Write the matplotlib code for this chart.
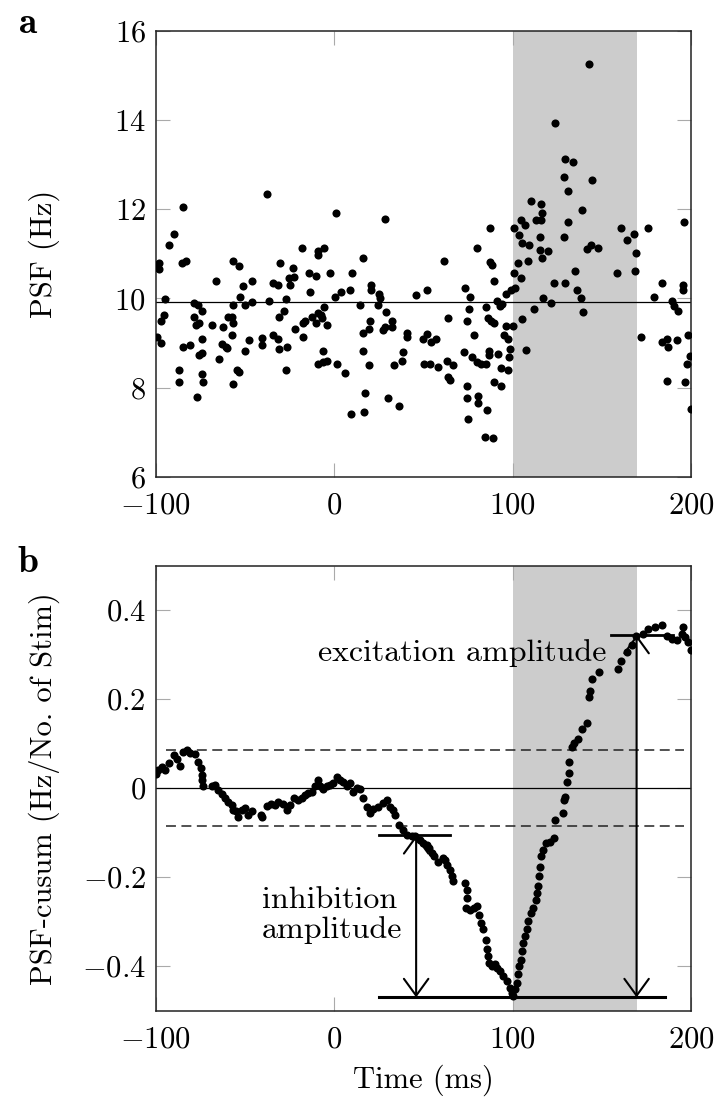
import matplotlib
matplotlib.use("Agg")
import matplotlib.pyplot as plt
import numpy as np

plt.rcParams['font.family'] = ['cmr10', 'DejaVu Serif']
plt.rcParams['mathtext.fontset'] = 'cm'
plt.rcParams['axes.unicode_minus'] = False

## panel a: peri-stimulus frequency, (time ms, Hz)
psf_a = [
    (-99.4, 10.7), (-97.9, 10.79), (-97.9, 10.66), (-99.4, 9.14), (-97.1, 8.99), (-94.7, 9.99),
    (-95.3, 9.63), (-96.9, 9.49), (-92.3, 11.2), (-89.5, 11.45), (-84.4, 12.06), (-85.4, 10.79),
    (-82.9, 10.84), (-87.0, 8.39), (-87.0, 8.13), (-84.4, 8.92), (-80.7, 8.96), (-76.8, 7.79),
    (-78.3, 9.90), (-76.4, 9.85), (-74.1, 9.72), (-78.6, 9.58), (-77.3, 9.40), (-75.5, 9.44),
    (-74.1, 9.10), (-75.5, 8.73), (-74.1, 8.78), (-74.1, 8.30), (-73.2, 8.13), (-66.3, 10.4),
    (-68.4, 9.41), (-64.3, 8.64), (-62.0, 9.35), (-63.0, 8.97), (-60.5, 8.92), (-59.8, 8.89),
    (-59.2, 9.58), (-57.3, 9.58), (-56.4, 9.44), (-57.3, 9.19), (-56.4, 10.85), (-53.4, 10.73),
    (-56.8, 9.85), (-56.4, 8.09), (-54.2, 8.39), (-53.4, 8.36), (-52.7, 10.04), (-50.8, 10.29),
    (-46.1, 10.4), (-49.9, 9.85), (-46.1, 9.91), (-47.5, 9.07), (-49.9, 8.83), (-40.5, 9.12),
    (-40.5, 8.95), (-37.4, 12.34), (-36.2, 9.95), (-34.0, 10.35), (-31.4, 10.3), (-34.4, 9.19),
    (-31.2, 9.10), (-30.6, 8.87), (-30.3, 10.79), (-30.8, 9.58), (-27.8, 9.71), (-26.9, 9.99),
    (-26.5, 8.92), (-26.9, 8.39), (-24.7, 10.3), (-25.1, 10.45), (-22.4, 10.47), (-23.2, 10.68),
    (-21.9, 9.32), (-18.1, 11.14), (-17.6, 9.13), (-17.2, 9.46), (-16.1, 9.49), (-14.2, 10.56),
    (-13.5, 10.14), (-12.3, 9.59), (-10.1, 9.46), (-10.1, 10.5), (-9.2, 10.97), (-9.2, 11.07),
    (-5.4, 11.13), (-8.8, 9.67), (-7.3, 9.63), (-5.6, 9.8), (-6.5, 9.57), (-4.1, 9.4),
    (-6.0, 8.83), (-8.8, 8.54), (-6.4, 8.57), (-4.1, 8.6), (-2.3, 10.56), (0.5, 10.04),
    (3.9, 10.15), (1.1, 11.91), (1.5, 8.54), (6.3, 8.33), (9.0, 10.19), (9.3, 7.4),
    (16.6, 7.46), (10.1, 10.56), (14.5, 9.85), (16.4, 10.9), (16.0, 9.23), (19.8, 9.31),
    (20.1, 9.5), (16.0, 8.83), (17.4, 7.88), (19.8, 8.51), (20.5, 10.3), (20.5, 10.2),
    (25.0, 10.11), (25.8, 10.0), (24.8, 9.85), (28.7, 11.78), (29.1, 9.70), (27.6, 9.29),
    (28.5, 9.37), (32.5, 9.5), (32.5, 9.37), (30.4, 7.76), (33.6, 8.51), (36.4, 7.59),
    (38.3, 8.6), (38.5, 8.79), (40.7, 9.22), (40.7, 9.14), (45.9, 10.08),
    (52.3, 10.19), (61.6, 10.84), (63.7, 9.57), (50.1, 9.1), (51.9, 9.2), (54.4, 9.03),
    (57.0, 9.1), (50.6, 8.54), (53.8, 8.53), (58.1, 8.47), (63.1, 8.6), (66.9, 8.51),
    (63.7, 8.24), (65.2, 8.17), (73.4, 10.24), (76.2, 10.04), (75.7, 9.76), (74.3, 9.49),
    (78.6, 9.19), (73.0, 8.79), (77.5, 8.69), (79.9, 8.58), (82.4, 8.54), (85.0, 8.54),
    (86.9, 8.83), (86.9, 8.73), (91.7, 8.75), (74.3, 8.03), (74.7, 7.76), (80.9, 7.82),
    (80.9, 7.65), (74.9, 7.29), (85.7, 7.5), (84.6, 6.9), (88.9, 6.88), (89.5, 8.13),
    (93.4, 8.03), (93.6, 8.43), (97.3, 8.39), (98.8, 8.87), (98.1, 8.69), (87.6, 11.57),
    (79.9, 11.14), (87.4, 10.82), (88.7, 10.75), (89.7, 10.4), (85.2, 9.80), (86.1, 9.57),
    (88.0, 9.5), (89.8, 9.44), (91.2, 9.95), (93.0, 9.83), (94.3, 9.87), (96.2, 10.09),
    (99.2, 10.19), (101.4, 10.23), (95.4, 9.18), (97.3, 9.1), (96.2, 9.38), (100.5, 9.38),
    (101.0, 10.56), (103.1, 10.79), (104.6, 10.45), (105.5, 9.53), (107.6, 8.84), (101.0, 11.57),
    (103.7, 11.42), (105.2, 11.25), (104.8, 11.76), (107.0, 11.65), (108.5, 10.85), (109.3, 11.2),
    (110.6, 12.19), (111.9, 9.76), (113.2, 11.77), (116.0, 11.77), (115.4, 11.38), (116.0, 12.12),
    (116.4, 11.91), (115.4, 11.09), (119.7, 11.07), (116.7, 10.9), (117.3, 10.0), (121.4, 9.89),
    (123.1, 10.35), (129.4, 10.35), (123.8, 13.94), (128.7, 12.73), (129.4, 13.13), (133.9, 13.05),
    (131.3, 12.41), (128.7, 11.38), (131.3, 11.71), (135.0, 10.62), (136.0, 10.19), (138.4, 10.0),
    (139.3, 9.70), (138.8, 11.98), (144.4, 12.66), (143.1, 15.27), (141.6, 11.12), (144.0, 11.2),
    (148.1, 11.14), (158.7, 10.56), (160.6, 11.57), (164.0, 11.31), (167.9, 11.44), (169.0, 11.01),
    (168.6, 10.61), (172.2, 9.14), (176.1, 11.57), (179.3, 10.04), (183.6, 10.35), (189.6, 9.95),
    (190.7, 9.83), (192.6, 9.72), (184.0, 9.03), (186.4, 9.1), (186.9, 8.92), (186.4, 8.15),
    (192.4, 9.07), (195.4, 10.3), (195.4, 10.19), (196.3, 11.71), (198.5, 9.18), (199.6, 8.71),
    (197.6, 8.53), (196.7, 8.13), (199.8, 7.53),
]
psf_t = [p[0] for p in psf_a]
psf_hz = [p[1] for p in psf_a]
psf_mean = 9.93

## panel b: cusum
cusum_t = [
    -99.7, -98.4, -96.6, -94.7, -92.3, -89.7, -87.8, -86.3, -84.4, -82.6, -80.7, -77.9,
    -76.0, -74.7, -74.2, -73.8, -73.2, -68.6, -66.7, -64.9, -63.0, -61.1, -59.2, -57.4,
    -56.4, -54.9, -53.6, -51.8, -49.9, -48.0, -46.1, -41.1, -40.5, -37.7, -35.5, -33.1,
    -31.2, -28.8, -26.5, -24.7, -22.4, -20.0, -18.1, -16.3, -14.4, -12.5, -10.7, -9.2,
    -7.9, -6.0, -4.1, -2.3, -0.4, 1.5, 3.3, 5.2, 7.1, 8.9, 10.8, 12.7,
    14.5, 16.4, 18.3, 20.1, 22.0, 24.8, 27.6, 29.5, 31.4, 33.2, 34.2, 36.6,
    38.4, 40.7, 43.5, 45.4, 48.2, 50.1, 51.9, 53.4, 54.7, 56.2, 58.5, 60.9,
    62.2, 63.5, 65.0, 65.9, 66.9, 73.4, 74.3, 74.7, 74.0, 76.2, 78.5, 80.3,
    81.4, 82.2, 83.3, 85.2, 85.9, 86.5, 87.0, 88.4, 90.2, 91.5, 93.0, 94.9,
    96.8, 98.3, 99.6, 100.1, 101.4, 102.4, 103.3, 103.9, 104.6, 105.2, 106.1, 107.0,
    108.0, 108.9, 110.2, 111.7, 113.2, 113.9, 114.5, 115.1, 115.4, 115.8, 116.9, 118.8,
    121.0, 123.3, 123.8, 128.5, 128.9, 129.4, 130.4, 131.7, 131.9, 133.2, 134.5, 136.9,
    138.8, 141.6, 143.1, 143.4, 144.4, 148.5, 159.3, 160.6, 164.0, 166.8, 169.2, 173.3,
    176.1, 179.9, 183.6, 186.4, 189.2, 192.0, 194.8, 195.7, 196.7, 198.5, 199.8,
]
cusum_v = [
    0.033, 0.042, 0.047, 0.042, 0.057, 0.075, 0.065, 0.050, 0.082, 0.086, 0.080, 0.077,
    0.060, 0.045, 0.030, 0.019, 0.005, 0.004, 0.007, -0.004, -0.013, -0.022, -0.030, -0.037,
    -0.049, -0.052, -0.065, -0.048, -0.045, -0.060, -0.052, -0.060, -0.065, -0.040, -0.035, -0.037,
    -0.032, -0.035, -0.048, -0.037, -0.022, -0.026, -0.022, -0.015, -0.010, -0.008, 0.004, 0.019,
    0.005, -0.002, 0.004, 0.007, 0.011, 0.026, 0.019, 0.013, 0.005, 0.011, -0.008, 0.000,
    -0.002, -0.022, -0.041, -0.056, -0.047, -0.043, -0.034, -0.026, -0.041, -0.048, -0.060, -0.082,
    -0.093, -0.105, -0.108, -0.108, -0.116, -0.122, -0.127, -0.134, -0.146, -0.153, -0.166, -0.157,
    -0.162, -0.172, -0.183, -0.198, -0.209, -0.214, -0.228, -0.246, -0.269, -0.273, -0.269, -0.264,
    -0.284, -0.302, -0.317, -0.341, -0.362, -0.377, -0.392, -0.399, -0.396, -0.403, -0.411, -0.422,
    -0.433, -0.448, -0.459, -0.467, -0.452, -0.437, -0.418, -0.400, -0.385, -0.366, -0.347, -0.332,
    -0.317, -0.299, -0.280, -0.269, -0.250, -0.235, -0.220, -0.198, -0.176, -0.153, -0.138, -0.123,
    -0.120, -0.112, -0.072, -0.056, -0.026, -0.019, 0.013, 0.034, 0.060, 0.093, 0.102, 0.110,
    0.134, 0.147, 0.205, 0.219, 0.246, 0.261, 0.269, 0.287, 0.306, 0.321, 0.343, 0.347,
    0.358, 0.362, 0.366, 0.343, 0.336, 0.334, 0.347, 0.362, 0.340, 0.328, 0.310,
]
threshold = 0.085
inhib_top, floor_v, excit_top = -0.105, -0.470, 0.345
inhib_t, excit_t = 46, 169.5
stim_window = (100, 170)

xticks = [-100, 0, 100, 200]
yticks_a = [6, 8, 10, 12, 14, 16]
yticks_b = [-0.4, -0.2, 0, 0.2, 0.4]
yticklabels_b = ['$-0.4$', '$-0.2$', '$0$', '$0.2$', '$0.4$']

fig = plt.figure(figsize=(7.15, 10.99), dpi=100)
ax_a = fig.add_axes([0.2175, 0.5662, 0.749, 0.4056])
ax_b = fig.add_axes([0.2175, 0.0803, 0.749, 0.4049])

FS = 22
for ax in (ax_a, ax_b):
    ax.set_xlim(-100, 200)
    ax.axvspan(*stim_window, color='#cccccc', lw=0, zorder=0)
    ax.set_xticks(xticks)
    ax.set_xticklabels(['$%d$' % t if t >= 0 else '$-%d$' % -t for t in xticks])
    ax.tick_params(direction='in', length=10, width=0.8, color='#aaaaaa',
                   top=True, right=True, labelsize=FS, pad=7)
    ax.tick_params(axis='x', pad=11)
    for s in ax.spines.values():
        s.set_linewidth(1.1)
        s.set_color('#222222')

## a
ax_a.scatter(psf_t, psf_hz, s=34, color='black', lw=0, zorder=3)
ax_a.axhline(psf_mean, color='black', lw=0.9, zorder=2)
ax_a.set_ylim(6, 16)
ax_a.set_yticks(yticks_a)
ax_a.set_yticklabels(['$%d$' % v for v in yticks_a])
ax_a.set_ylabel('PSF (Hz)', fontsize=FS)
ax_a.yaxis.set_label_coords(-0.178, 0.5)

## b
ax_b.set_ylim(-0.5, 0.5)
ax_b.set_yticks(yticks_b)
ax_b.set_yticklabels(yticklabels_b)
ax_b.axhline(0, color='black', lw=0.9, zorder=2)
for th in (threshold, -threshold):
    ax_b.plot([-94, 196], [th, th], color='#222222', lw=1.1, dashes=(6.5, 3.6), zorder=2)
ax_b.scatter(cusum_t, cusum_v, s=34, color='black', lw=0, zorder=3)

# amplitude bars and arrows
ax_b.plot([25.4, 65], [inhib_top, inhib_top], color='black', lw=2, zorder=4)
ax_b.plot([25.4, 185.5], [floor_v, floor_v], color='black', lw=2.2, zorder=4)
ax_b.plot([155, 190], [excit_top, excit_top], color='black', lw=2, zorder=4)
arrow = dict(arrowstyle='<->,head_length=0.55,head_width=0.4', lw=1.5,
             mutation_scale=22, shrinkA=0, shrinkB=0, color='black')
ax_b.annotate('', xy=(inhib_t, inhib_top), xytext=(inhib_t, floor_v), arrowprops=arrow, zorder=4)
ax_b.annotate('', xy=(excit_t, excit_top), xytext=(excit_t, floor_v), arrowprops=arrow, zorder=4)
ax_b.text(72, 0.303, 'excitation amplitude', fontsize=FS + 1, ha='center', va='center', zorder=5)
ax_b.text(-40.5, -0.286, 'inhibition\namplitude', fontsize=FS + 1, ha='left', va='center',
          linespacing=1.1, zorder=5)

ax_b.set_ylabel('PSF-cusum (Hz/No. of Stim)', fontsize=FS)
ax_b.yaxis.set_label_coords(-0.178, 0.5)
ax_b.set_xlabel('Time (ms)', fontsize=FS, labelpad=8)

fig.text(0.0266, 0.970, 'a', fontsize=27, family='cmb10', ha='left', va='baseline')
fig.text(0.0238, 0.4795, 'b', fontsize=27, family='cmb10', ha='left', va='baseline')

fig.savefig('out.png', dpi=100)
